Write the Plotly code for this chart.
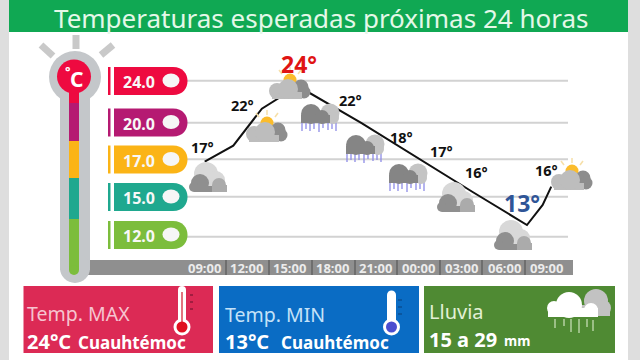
import plotly.graph_objects as go

# ---- data ----
title_text = "Temperaturas esperadas próximas 24 horas"
time_labels = ["09:00", "12:00", "15:00", "18:00", "21:00", "00:00", "03:00", "06:00", "09:00"]
time_hours = [0, 3, 6, 9, 12, 15, 18, 21, 24]
point_temps = ["17°", "22°", "24°", "22°", "18°", "17°", "16°", "13°", "16°"]
scale_labels = ["24.0", "20.0", "17.0", "15.0", "12.0"]
scale_colors = ["#ee0a40", "#b51a72", "#fbb416", "#1fa88f", "#7cbd3c"]
grid_levels = [24.0, 20.77, 17.95, 15.07, 12.0]
line_hours = [0.05, 2.05, 4.05, 5.25, 6.3, 7.4, 11.0, 18.8, 22.6, 23.7, 24.3]
line_levels = [17.77, 19.0, 21.85, 22.67, 23.4, 23.05, 20.75, 15.44, 12.9, 14.45, 15.85]

# ---- page helpers ----
W, H = 640, 360
X0, PXH = 204.0, 14.29
Y24, PXD = 80.7, 13.0
x_range = [(0 - X0) / PXH, (W - X0) / PXH]
y_range = [24 + (360 - Y24) / -PXD, 24 + Y24 / PXD]
FONT = "Noto Sans"
shapes, annos = [], []

def px(x): return x / W
def py(y): return 1 - y / H

def rect(x0, y0, x1, y1, c):
    shapes.append(dict(type="rect", xref="paper", yref="paper", x0=px(x0), x1=px(x1), y0=py(y1), y1=py(y0),
                       fillcolor=c, line=dict(width=0), layer="below"))

def circ(cx, cy, rx, c, ry=None, layer="above", line=None):
    ry = rx if ry is None else ry
    shapes.append(dict(type="circle", xref="paper", yref="paper", x0=px(cx - rx), x1=px(cx + rx),
                       y0=py(cy + ry), y1=py(cy - ry), fillcolor=c,
                       line=line or dict(width=0), layer=layer))

def seg(x0, y0, x1, y1, c, w=2, layer="above"):
    shapes.append(dict(type="line", xref="paper", yref="paper", x0=px(x0), x1=px(x1), y0=py(y0), y1=py(y1),
                       line=dict(color=c, width=w), layer=layer))

def above(x0, y0, x1, y1, c):
    shapes.append(dict(type="rect", xref="paper", yref="paper", x0=px(x0), x1=px(x1), y0=py(y1), y1=py(y0),
                       fillcolor=c, line=dict(width=0), layer="above"))

def text(x, y, s, size, c, bold=False, anchor="center", family=FONT):
    annos.append(dict(xref="paper", yref="paper", x=px(x), y=py(y), text=f"<b>{s}</b>" if bold else s,
                      showarrow=False, xanchor=anchor, yanchor="middle",
                      font=dict(family=family, size=size, color=c), borderpad=0))

# ---- frame ----
rect(0, 0, 9, 360, "#dedede")
rect(628, 0, 640, 360, "#dedede")
rect(9, 0, 628, 32, "#10a853")
text(321, 17.8, title_text, 26, "#e4f8e8")

# ---- thermometer ----
for a, b, c, d in [(41, 45, 53, 56), (76, 35, 76, 49), (113, 45, 101, 55)]:
    seg(a, b, c, d, "#c9c9c9", 7)
circ(75, 77, 26, "#c4c7ca")
above(60, 77, 90, 270, "#c4c7ca")
circ(75, 268, 15, "#c4c7ca")
col_breaks = [85, 103, 141, 178, 219, 270]
col_colors = ["#ee0a40", "#b51a72", "#fbb416", "#1fa88f", "#7cbd3c"]
for i, c in enumerate(col_colors):
    above(69, col_breaks[i], 79, col_breaks[i + 1], c)
circ(74, 270, 5, "#7cbd3c")
circ(74, 76.5, 17, "#ee0a40")
text(76, 79, "C", 21, "#ffffff", True)
text(68, 71, "°", 13, "#ffffff", True)

# ---- time bar ----
rect(88, 260, 573, 275, "#8f8f8f")
for xs in [226, 269, 312, 355, 397, 440, 482, 525]:
    seg(xs, 260, xs, 275, "#6e6e6e", 2, layer="above")
for h, lab in zip(time_hours, time_labels):
    text(X0 + PXH * h, 268, lab, 13, "#ececec", True)

# ---- grid lines ----
for lv in grid_levels:
    shapes.append(dict(type="line", xref="paper", yref="y", x0=px(185), x1=px(568), y0=lv, y1=lv,
                       line=dict(color="#d2d2d2", width=2), layer="below"))

# ---- scale pills ----
pill_y = [81, 122.5, 159.5, 197, 235]
for y, lab, c in zip(pill_y, scale_labels, scale_colors):
    y0, y1 = y - 14, y + 14
    above(108, y0, 110.5, y1, c)
    p = (f"M {px(114)} {py(y0)} L {px(173)} {py(y0)} "
         f"C {px(183)} {py(y0)} {px(187.5)} {py(y - 7)} {px(187.5)} {py(y)} "
         f"C {px(187.5)} {py(y + 7)} {px(183)} {py(y1)} {px(173)} {py(y1)} L {px(114)} {py(y1)} Z")
    shapes.append(dict(type="path", xref="paper", yref="paper", path=p, fillcolor=c, line=dict(width=0), layer="above"))
    circ(171, y - 0.5, 8.5, "#f6f6f6", ry=7)
    text(139, y + 1, lab, 16, "#f8f8f8", True)

# ---- weather icons ----
def cloud_grey(cx, cy):
    circ(cx - 2, cy - 4, 12, "#d8d8d8")
    circ(cx + 8, cy + 2, 9, "#d8d8d8")
    circ(cx + 11, cy + 7, 7, "#ababab")
    above(cx + 4, cy + 7, cx + 19, cy + 14, "#ababab")
    circ(cx - 8, cy + 5, 9, "#8f8f8f")
    circ(cx - 14, cy + 9, 5, "#8f8f8f")
    above(cx - 14, cy + 8, cx + 4, cy + 14, "#8f8f8f")

def cloud_sun(cx, cy):
    for dx, dy, ex, ey in [(0, -17, 0, -12), (-11, -14, -8, -10), (11, -14, 8, -10)]:
        seg(cx + dx, cy + dy, cx + ex, cy + ey, "#f6dfa8", 1.5)
    circ(cx, cy - 4, 6.5, "#fbbc2c")
    circ(cx + 11, cy + 3, 7.5, "#8d8d8d")
    circ(cx + 14, cy + 8, 6.5, "#8d8d8d")
    circ(cx - 13, cy + 7, 8, "#bdbdbd")
    above(cx - 18, cy + 8, cx + 12, cy + 15, "#bdbdbd")
    circ(cx - 2, cy + 5, 10, "#bdbdbd")

def cloud_rain(cx, cy):
    for dx, ln in [(-18, 9), (-14, 7), (-10, 9), (-6, 7), (-1, 10), (3, 6), (8, 8), (12, 7), (16, 9)]:
        seg(cx + dx, cy + 4, cx + dx, cy + 4 + ln, "#8d8be6", 1.3)
    circ(cx + 10, cy - 5, 9.5, "#c4c4c4")
    circ(cx + 13, cy, 6, "#c4c4c4")
    circ(cx - 9, cy - 4, 10, "#858585")
    circ(cx + 2, cy - 1, 7, "#858585")
    above(cx - 19, cy - 3, cx + 10, cy + 5, "#858585")

for c in [(208, 178), (456, 198), (513, 236)]:
    cloud_grey(*c)
for c in [(267, 127), (290, 84), (572, 175)]:
    cloud_sun(*c)
for c in [(320, 118), (365, 149), (408, 178)]:
    cloud_rain(*c)

# ---- point labels ----
lab_xy = [(202, 147), (242, 105), (299, 64), (350, 100), (401, 137), (441, 151), (476, 172), (522, 203), (546, 170)]
for i, (t, (x, y)) in enumerate(zip(point_temps, lab_xy)):
    if i == 2:
        text(x, y, t, 23, "#e01414", True)
    elif i == 7:
        text(x, y, t, 23, "#2f5597", True)
    else:
        text(x, y, t, 14.5, "#111111", True)

# ---- bottom panels ----
rect(23.5, 286, 213, 353, "#dc2a55")
rect(219, 286, 419, 353, "#0a6cc4")
rect(424, 286, 615, 353, "#4f8a33")

text(26, 313, "Temp. MAX", 19.5, "#f6c4d0", False, "left")
text(26, 341, "24°C", 20, "#ffffff", True, "left")
text(77, 342, "Cuauhtémoc", 17, "#ffffff", True, "left")
text(224, 314, "Temp. MIN", 19.5, "#c4e2f8", False, "left")
text(224, 341, "13°C", 20, "#ffffff", True, "left")
text(280, 342, "Cuauhtémoc", 17, "#ffffff", True, "left")
text(428, 311, "Lluvia", 20, "#e2f0d6", False, "left")
text(428, 339, "15 a 29", 20, "#ffffff", True, "left")
text(503, 341, "mm", 13.5, "#ffffff", True, "left")

# panel thermometers
circ(182, 327, 8.5, "#ffffff")
above(178, 290, 186, 325, "#ffffff")
circ(182, 290, 4, "#ffffff")
above(181, 292, 183, 325, "#e2747f")
circ(182, 327, 5.5, "#e01020")
for y in [295, 302, 309]:
    seg(190, y, 193, y, "#8e1a3a", 1.5)
circ(391.5, 327, 8.5, "#ffffff")
above(387, 295, 396, 325, "#ffffff")
circ(391.5, 295, 4.5, "#ffffff")
circ(391.5, 327, 5.5, "#4a4ed0")
for y in [300, 307, 314]:
    seg(398, y, 402, y, "#0a4f94", 1.5)

# rain cloud on green panel
circ(596, 301, 12, "#c2c2c2")
circ(603, 308, 8, "#c2c2c2")
above(572, 305, 610, 316, "#c2c2c2")
circ(569, 305, 13, "#ffffff")
circ(554, 308, 7, "#ffffff")
circ(591, 310, 7, "#ffffff")
above(548, 308, 598, 317, "#ffffff")
for x, y0, y1 in [(555, 319, 328), (564, 319, 326), (571, 319, 332), (579, 319, 333), (587, 319, 327), (593, 320, 331)]:
    seg(x, y0, x, y1, "#c5dcb4", 1.3)

# ---- figure ----
fig = go.Figure(go.Scatter(x=line_hours, y=line_levels, mode="lines", line=dict(color="#111111", width=2),
                           hoverinfo="skip", cliponaxis=False))
fig.update_layout(width=W, height=H, margin=dict(l=0, r=0, t=0, b=0), paper_bgcolor="#ffffff",
                  plot_bgcolor="rgba(0,0,0,0)", showlegend=False, shapes=shapes, annotations=annos,
                  xaxis=dict(range=x_range, visible=False, fixedrange=True),
                  yaxis=dict(range=y_range, visible=False, fixedrange=True))
fig.write_html("out.html", config=dict(displayModeBar=False),
               post_script="document.body.style.margin='0';document.body.style.overflow='hidden';")
